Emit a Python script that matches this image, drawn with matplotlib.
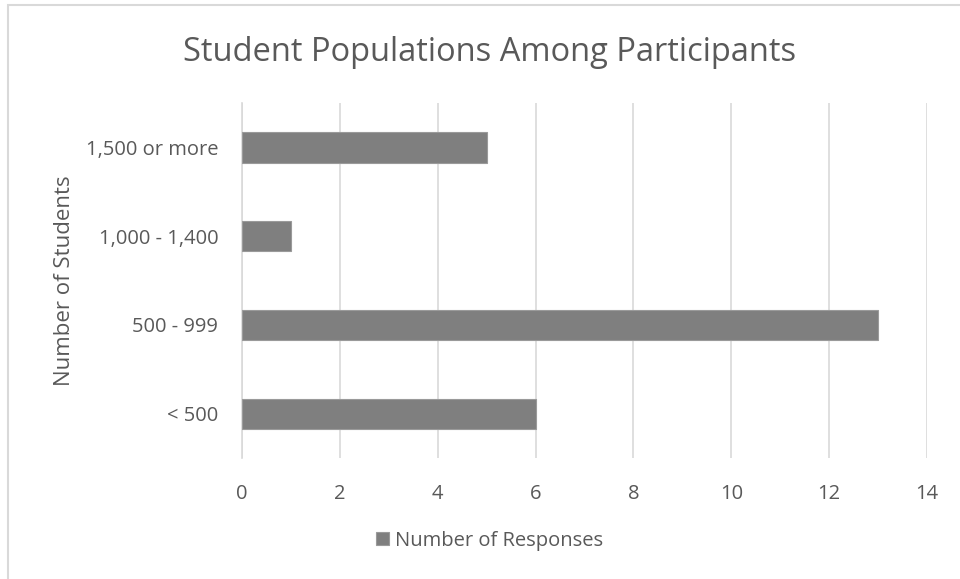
import matplotlib.pyplot as plt
from matplotlib.patches import Rectangle

# Survey results: school size vs. number of responses
categories = ["< 500", "500 - 999", "1,000 - 1,400", "1,500 or more"]
responses = [6, 13, 1, 5]
x_ticks = [0, 2, 4, 6, 8, 10, 12, 14]

text_color = "#595959"
bar_color = "#7f7f7f"
grid_color = "#d9d9d9"

plt.rcParams["font.family"] = ["Open Sans", "DejaVu Sans"]

fig = plt.figure(figsize=(9.6, 5.79), dpi=100)
ax = fig.add_axes([0.252, 0.209, 0.7136, 0.613])

ax.barh(range(len(categories)), responses, height=0.34, color=bar_color,
        edgecolor="#9a9a9a", linewidth=0.8, label="Number of Responses", zorder=3)

ax.set_xlim(0, 14)
ax.set_ylim(-0.5, len(categories) - 0.5)
ax.set_xticks(x_ticks)
ax.set_yticks(range(len(categories)))
ax.set_yticklabels(categories)
ax.grid(axis="x", color=grid_color, linewidth=1.2, zorder=0)
ax.tick_params(axis="both", length=0, labelsize=14.5, colors=text_color)
ax.tick_params(axis="x", pad=19)
ax.tick_params(axis="y", pad=17)
for side in ["top", "right", "bottom"]:
    ax.spines[side].set_visible(False)
ax.spines["left"].set_color(grid_color)
ax.spines["left"].set_linewidth(1.2)

ax.set_ylabel("Number of Students", fontsize=16, color=text_color, labelpad=8)
fig.text(0.51, 0.91, "Student Populations Among Participants", ha="center",
         va="center", fontsize=23.5, color=text_color)

leg = fig.legend(loc="center", bbox_to_anchor=(0.51, 0.066), frameon=False,
                 fontsize=14.5, handlelength=0.6, handleheight=0.6, handletextpad=0.3)
for t in leg.get_texts():
    t.set_color(text_color)

# light frame around the chart area
fig.patches.append(Rectangle((8 / 960, -0.01), 1.0, 1 - 5 / 579 + 0.01,
                             transform=fig.transFigure, fill=False,
                             edgecolor="#d9d9d9", linewidth=1.5))

fig.savefig("out.png", dpi=100)
